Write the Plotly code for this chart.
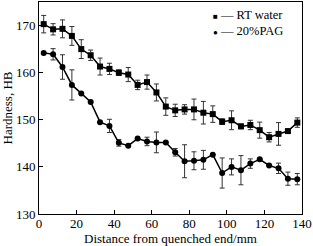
import plotly.graph_objects as go

distance = [2.5 + 5 * i for i in range(28)]

rt_water = [170.3, 169.2, 169.3, 167.8, 165.0, 163.7, 161.3, 160.8, 160.0, 159.6,
            157.4, 158.0, 155.8, 152.8, 152.0, 152.2, 152.2, 151.5, 151.2, 149.6,
            149.9, 148.6, 148.9, 147.8, 146.3, 147.0, 147.6, 149.4]
rt_err = [1.85, 1.2, 1.9, 2.0, 2.0, 1.1, 1.8, 1.2, 0.6, 1.5,
          1.0, 1.5, 1.8, 1.85, 1.3, 1.0, 2.2, 2.4, 1.75, 0.6,
          2.0, 0.5, 1.0, 1.7, 1.0, 2.4, 0.3, 1.0]

pag = [164.2, 163.9, 161.2, 157.4, 155.6, 153.8, 149.5, 148.7, 145.1, 144.5,
       146.0, 145.4, 145.2, 145.2, 143.1, 141.2, 141.3, 141.5, 142.6, 138.7,
       140.0, 139.3, 140.7, 141.6, 140.3, 139.7, 137.5, 137.4]
pag_err = [0.0, 1.2, 2.6, 3.2, 0.0, 0.0, 0.0, 1.4, 0.7, 0.0,
           0.0, 0.9, 2.2, 0.0, 0.8, 3.5, 1.9, 2.0, 0.0, 3.2,
           1.7, 3.1, 1.0, 0.0, 0.0, 1.1, 1.4, 1.2]

series_names = ["RT water", "20%PAG"]
legend_symbols = ["■", "●"]

x_ticks = [0, 20, 40, 60, 80, 100, 120, 140]
y_ticks = [130, 140, 150, 160, 170]

font_family = "Liberation Serif"

fig = go.Figure()
fig.add_trace(go.Scatter(
    x=distance, y=rt_water, name=series_names[0], mode="lines+markers",
    line=dict(color="black", width=1.5),
    marker=dict(symbol="square", size=6, color="black"),
    error_y=dict(type="data", array=rt_err, visible=True, color="#333333", thickness=1, width=2.5),
))
fig.add_trace(go.Scatter(
    x=distance, y=pag, name=series_names[1], mode="lines+markers",
    line=dict(color="black", width=1.5),
    marker=dict(symbol="circle", size=6, color="black"),
    error_y=dict(type="data", array=pag_err, visible=True, color="#333333", thickness=1, width=2.5),
))

axis_common = dict(
    showgrid=False, zeroline=False, showline=True, linecolor="black", linewidth=1,
    mirror=True, ticks="inside", ticklen=4, tickcolor="black",
    tickfont=dict(family=font_family, size=13, color="black"),
)

fig.update_layout(
    width=313, height=246,
    margin=dict(l=39, r=9, t=1, b=32),
    paper_bgcolor="white", plot_bgcolor="white",
    showlegend=False,
    font=dict(family=font_family, size=13, color="black"),
)
fig.update_xaxes(range=[0, 140], tickvals=x_ticks, ticktext=[str(v) for v in x_ticks],
                 ticklabelstandoff=-3, ticklabeloverflow="allow", **axis_common)
fig.update_yaxes(range=[130, 175], tickvals=y_ticks, ticktext=[str(v) for v in y_ticks],
                 title=dict(text="Hardness, HB", standoff=2,
                            font=dict(family=font_family, size=13, color="black")),
                 **axis_common)

# x-axis title as annotation below tick labels
fig.add_annotation(
    text="Distance from quenched end/mm", xref="paper", yref="paper",
    x=0.5, y=0, xanchor="center", yanchor="middle", yshift=-24,
    showarrow=False, font=dict(family=font_family, size=13, color="black"),
)

# legend drawn as a single text block
legend_text = "<br>".join(
    f'<span style="font-size:8px">{sym}</span> — {name}'
    for sym, name in zip(legend_symbols, series_names)
)
fig.add_annotation(
    text=legend_text, xref="paper", yref="paper", x=0.655, y=0.90,
    xanchor="left", yanchor="middle", align="left", showarrow=False,
    font=dict(family=font_family, size=12.5, color="black"),
)

fig.write_html("out.html")
